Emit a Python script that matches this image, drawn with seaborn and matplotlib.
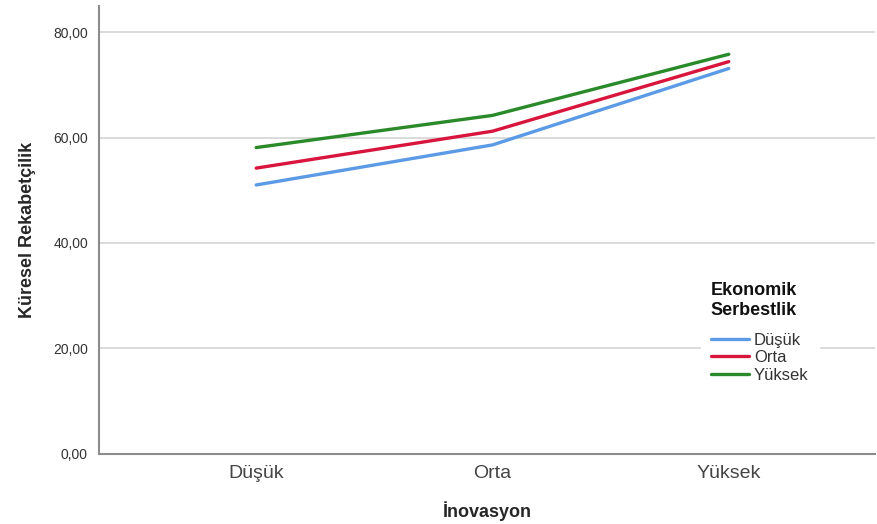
import matplotlib
matplotlib.use("Agg")
import matplotlib.pyplot as plt
import pandas as pd
import seaborn as sns
from matplotlib.ticker import FuncFormatter

# categories on the x axis (İnovasyon) and the hue groups (Ekonomik Serbestlik)
inovasyon = ["Düşük", "Orta", "Yüksek"]
groups = ["Düşük", "Orta", "Yüksek"]

# estimated marginal means
dusuk = [51.0, 58.6, 73.1]
orta = [54.2, 61.2, 74.4]
yuksek = [58.1, 64.2, 75.8]

y_ticks = [0, 20, 40, 60, 80]
colors = ["#5b9be6", "#d8153c", "#2a8a2a"]

rows = []
for g, vals in zip(groups, [dusuk, orta, yuksek]):
    for cat, v in zip(inovasyon, vals):
        rows.append({"İnovasyon": cat, "Ekonomik Serbestlik": g, "value": v})
df = pd.DataFrame(rows)

sns.set_theme(style="white")
plt.rcParams["font.family"] = ["Liberation Sans", "DejaVu Sans"]

fig = plt.figure(figsize=(8.77, 5.24), dpi=100)
ax = fig.add_axes([0.113, 0.134, 0.885, 0.855])

sns.lineplot(data=df, x="İnovasyon", y="value", hue="Ekonomik Serbestlik",
             palette=colors, linewidth=2.4, sort=False, ax=ax)

ax.set_ylim(0, 85)
ax.set_xlim(-0.665, 2.62)
ax.set_yticks(y_ticks)
ax.yaxis.set_major_formatter(FuncFormatter(lambda v, _: f"{v:.2f}".replace(".", ",")))
ax.grid(axis="y", color="#d4d4d4", linewidth=1.2)
ax.set_axisbelow(True)

for side in ("top", "right"):
    ax.spines[side].set_visible(False)
for side in ("left", "bottom"):
    ax.spines[side].set_color("#8c8c8c")
    ax.spines[side].set_linewidth(1.5)

ax.tick_params(axis="y", labelsize=10, colors="#333333", length=0, pad=8)
ax.tick_params(axis="x", labelsize=14, colors="#444444", length=0, pad=8)
ax.set_xlabel("İnovasyon", fontsize=13, fontweight="bold", labelpad=14)
ax.set_ylabel("Küresel Rekabetçilik", fontsize=13, fontweight="bold", labelpad=12)

leg = ax.legend(title="Ekonomik\nSerbestlik", loc="upper left",
                bbox_to_anchor=(0.775, 0.405), frameon=True, fontsize=12,
                title_fontproperties={"weight": "bold", "size": 13},
                handlelength=2.3, handletextpad=0.3, labelspacing=0.15,
                borderpad=0.6, borderaxespad=0)
leg._legend_box.align = "left"
leg._legend_box.sep = 10
leg.get_title().set_color("#111111")
leg.get_frame().set_facecolor("white")
leg.get_frame().set_edgecolor("white")
leg.get_frame().set_alpha(1)
for t in leg.get_texts():
    t.set_color("#333333")

fig.savefig("out.png", dpi=100)
